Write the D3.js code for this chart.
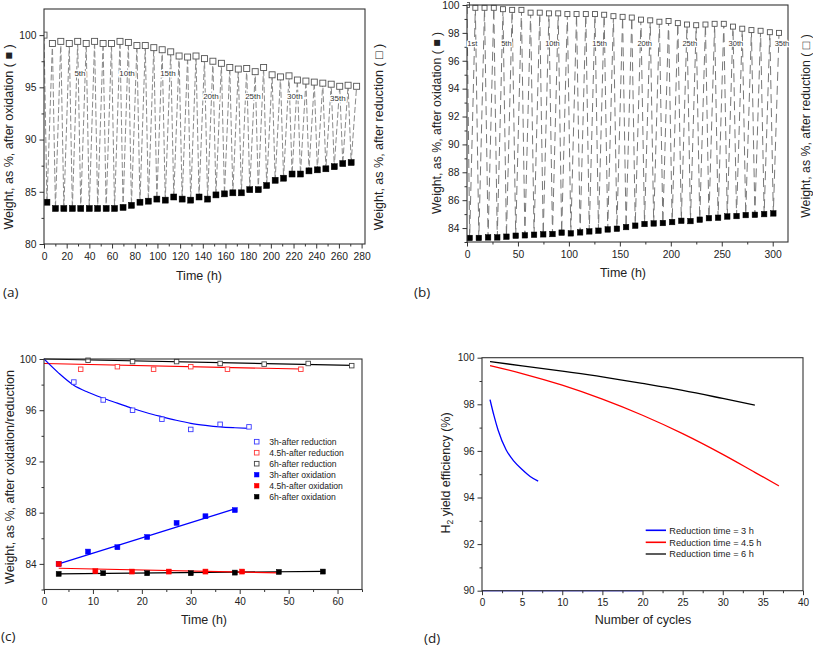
<!DOCTYPE html>
<html><head><meta charset="utf-8">
<script src="https://cdn.jsdelivr.net/npm/d3@7"></script>
<style>
body{margin:0;background:#fff;}
svg{display:block;font-family:"Liberation Sans",Arial,sans-serif;}
</style></head><body>
<svg id="chart" width="813" height="650"></svg>
<script>
// ---------- Panel (a) data ----------
const aRedTime = [0,7.4,14.8,22.3,29.7,37.2,44.6,52.1,59.5,67.0,74.4,81.9,89.3,96.8,104.2,111.7,119.1,126.6,134.0,141.5,148.9,156.4,163.8,171.3,178.7,186.2,193.6,201.1,208.5,216.0,223.4,230.9,238.3,245.8,253.2,260.7,268.1,275.6];
const aRedVal  = [100,99.2,99.4,99.2,99.4,99.2,99.4,99.2,99.2,99.4,99.3,99.0,99.0,98.8,98.6,98.4,98.0,97.9,98.0,97.75,97.5,97.3,96.9,96.75,96.8,96.5,96.9,96.2,96.0,96.1,95.7,95.6,95.5,95.4,95.3,95.1,95.2,95.1];
const aOxTime  = [2.6,10.1,17.5,25.0,32.4,39.9,47.3,54.8,62.2,69.7,77.1,84.6,92.0,99.5,106.9,114.4,121.8,129.3,136.7,144.2,151.6,159.1,166.5,174.0,181.4,188.9,196.3,203.8,211.2,218.7,226.1,233.6,241.0,248.5,255.9,263.4,270.8];
const aOxVal   = [84.0,83.4,83.4,83.4,83.4,83.4,83.4,83.4,83.4,83.5,83.7,84.0,84.1,84.3,84.2,84.5,84.3,84.2,84.5,84.3,84.7,84.8,84.9,84.9,85.2,85.2,85.6,86.1,86.3,86.7,86.7,87.0,87.1,87.2,87.4,87.7,87.8];
const aCycleLabels = ["5th","10th","15th","20th","25th","30th","35th"];
const aCycleLabelTime = [31.7,73.2,109.3,147.2,184.2,221.2,259.1];
const aCycleLabelVal  = [96.4,96.4,96.4,94.2,94.2,94.2,94.0];
const aXTicks = [0,20,40,60,80,100,120,140,160,180,200,220,240,260,280];
const aXMinor = [10,30,50,70,90,110,130,150,170,190,210,230,250,270];
const aYTicks = [80,85,90,95,100];
const aYMinor = [82.5,87.5,92.5,97.5];

// ---------- Panel (b) data ----------
const bRedTime = [0,8.2,17.2,26.3,35.3,44.3,53.4,62.4,71.4,80.4,89.5,98.5,107.5,116.6,125.6,134.6,143.7,152.7,161.7,170.7,179.8,188.8,197.8,206.9,215.9,224.9,234.0,243.0,252.0,261.0,270.1,279.1,288.1,297.2,306.2];
const bRedVal  = [100,99.8,99.8,99.8,99.7,99.65,99.65,99.45,99.45,99.4,99.4,99.35,99.35,99.35,99.35,99.3,99.2,99.15,99.1,98.95,98.9,98.8,98.85,98.7,98.6,98.55,98.6,98.65,98.65,98.45,98.3,98.2,98.15,98.05,98.0];
const bOxTime  = [2.6,11.6,20.7,29.7,38.7,47.8,56.8,65.8,74.8,83.9,92.9,101.9,111.0,120.0,129.0,138.1,147.1,156.1,165.1,174.2,183.2,192.2,201.3,210.3,219.3,228.4,237.4,246.4,255.4,264.5,273.5,282.5,291.6,300.6];
const bOxVal   = [83.29,83.29,83.33,83.33,83.38,83.45,83.48,83.52,83.55,83.57,83.67,83.62,83.69,83.76,83.81,83.9,83.95,84.07,84.17,84.29,84.33,84.36,84.43,84.52,84.5,84.6,84.71,84.74,84.83,84.86,84.93,84.95,85.0,85.05];
const bCycleLabels = ["1st","5th","10th","15th","20th","25th","30th","35th"];
const bCycleLabelTime = [5.2,38.7,83.9,130.1,174.4,218.6,263.9,309.1];
const bCycleLabelVal  = [97.3,97.3,97.3,97.3,97.3,97.3,97.3,97.3];
const bXTicks = [0,50,100,150,200,250,300];
const bXMinor = [25,75,125,175,225,275];
const bYTicks = [84,86,88,90,92,94,96,98,100];
const bYMinor = [83,85,87,89,91,93,95,97,99];

// ---------- Panel (c) data ----------
const c3RedTime = [6.1,12.1,18.1,24.1,30.0,36.0,41.9];
const c3RedVal  = [98.2,96.8,96.0,95.3,94.5,94.9,94.7];
const c45RedTime = [7.5,15.0,22.4,30.0,37.5,52.5];
const c45RedVal  = [99.2,99.4,99.2,99.4,99.2,99.2];
const c6RedTime = [9.0,18.1,27.1,36.0,45.0,54.0,62.9];
const c6RedVal  = [99.9,99.8,99.8,99.65,99.6,99.65,99.48];
const c3OxTime = [3.0,9.0,15.0,21.1,27.1,33.0,39.0];
const c3OxVal  = [84.0,84.96,85.3,86.1,87.2,87.72,88.2];
const c45OxTime = [3.0,10.5,18.0,25.5,33.0,40.5];
const c45OxVal  = [84.0,83.43,83.4,83.4,83.4,83.4];
const c6OxTime = [3.0,12.1,21.1,30.0,39.0,48.0,57.0];
const c6OxVal  = [83.22,83.27,83.27,83.27,83.32,83.37,83.4];
// fitted curves
const c3RedFitTime = [0,3,6,9,12,15,18,21,24,27,30,33,36,39,42];
const c3RedFitVal  = [100,98.9,97.97,97.4,96.95,96.55,96.15,95.8,95.5,95.22,94.98,94.82,94.7,94.63,94.58];
const c45RedFitTime = [0,52.5];
const c45RedFitVal  = [99.65,99.22];
const c6RedFitTime = [0,63];
const c6RedFitVal  = [100,99.5];
const c3OxFitTime = [3,39];
const c3OxFitVal  = [84.0,88.3];
const c45OxFitTime = [3,48];
const c45OxFitVal  = [83.66,83.3];
const c6OxFitTime = [3,57];
const c6OxFitVal  = [83.22,83.42];
const cLegend = ["3h-after reduction","4.5h-after reduction","6h-after reduction","3h-after oxidation","4.5h-after oxidation","6h-after oxidation"];
const cXTicks = [0,10,20,30,40,50,60];
const cXMinor = [5,15,25,35,45,55,65];
const cYTicks = [84,88,92,96,100];
const cYMinor = [82,86,90,94,98];

// ---------- Panel (d) data ----------
const d3Cycles = [1,1.5,2,3,4,5,6,7];
const d3Val    = [98.2,97.5,96.9,96.05,95.55,95.2,94.9,94.7];
const d45Cycles = [1,5,10,15,20,25,30,34,37];
const d45Val    = [99.66,99.32,98.82,98.22,97.53,96.74,95.85,95.08,94.5];
const d6Cycles = [1,5,10,15,20,25,30,34];
const d6Val    = [99.83,99.65,99.42,99.18,98.9,98.6,98.25,97.96];
const dBaseCycles = [0,20];
const dBaseVal = [90,90];
const dLegend = ["Reduction time = 3 h","Reduction time = 4.5 h","Reduction time = 6 h"];
const dXTicks = [0,5,10,15,20,25,30,35,40];
const dXMinor = [2.5,7.5,12.5,17.5,22.5,27.5,32.5,37.5];
const dYTicks = [90,92,94,96,98,100];
const dYMinor = [91,93,95,97,99];

// ---------- drawing ----------
const svg = d3.select("#chart");
const zip = (t,v) => t.map((d,i)=>({t:d,v:v[i]}));

function panel(o){
  const g = svg.append("g");
  const x = d3.scaleLinear().domain(o.xDom).range([o.x0,o.x1]);
  const y = d3.scaleLinear().domain(o.yDom).range([o.y1,o.y0]);
  const clip = "clip"+Math.random().toString(36).slice(2);
  svg.append("clipPath").attr("id",clip).append("rect")
    .attr("x",o.x0).attr("y",o.y0-4).attr("width",o.x1-o.x0).attr("height",o.y1-o.y0+8);
  const plot = g.append("g").attr("clip-path",`url(#${clip})`);
  const ax = g.append("g");
  // minor ticks
  ax.append("g").attr("transform",`translate(0,${o.y1})`)
    .call(d3.axisBottom(x).tickValues(o.xMinor).tickSize(2.5).tickFormat(""))
    .call(s=>s.select(".domain").remove());
  ax.append("g").attr("transform",`translate(${o.x0},0)`)
    .call(d3.axisLeft(y).tickValues(o.yMinor).tickSize(2.5).tickFormat(""))
    .call(s=>s.select(".domain").remove());
  ax.append("g").attr("transform",`translate(0,${o.y1})`)
    .call(d3.axisBottom(x).tickValues(o.xTicks).tickSize(4.5).tickPadding(o.xPad).tickFormat(d3.format("")))
    .call(s=>s.select(".domain").remove())
    .call(s=>s.selectAll("text").attr("font-size",o.tf).attr("fill","#222").attr("font-family","Liberation Sans, Arial, sans-serif"));
  ax.append("g").attr("transform",`translate(${o.x0},0)`)
    .call(d3.axisLeft(y).tickValues(o.yTicks).tickSize(4.5).tickPadding(o.yPad).tickFormat(d3.format("")))
    .call(s=>s.select(".domain").remove())
    .call(s=>s.selectAll("text").attr("font-size",o.tf).attr("fill","#222").attr("font-family","Liberation Sans, Arial, sans-serif"));
  ax.selectAll(".tick line").attr("stroke","#333");
  g.append("rect").attr("x",o.x0).attr("y",o.y0).attr("width",o.x1-o.x0).attr("height",o.y1-o.y0)
    .attr("fill","none").attr("stroke","#333").attr("stroke-width",1.1);
  return {g,plot,x,y};
}

function sq(sel, pts, x, y, size, open, color){
  sel.selectAll(null).data(pts).enter().append("rect")
    .attr("x",d=>x(d.t)-size/2).attr("y",d=>y(d.v)-size/2)
    .attr("width",size).attr("height",size)
    .attr("fill",open?"#fff":color).attr("stroke",color).attr("stroke-width",open?0.9:0.5);
}
function ytitle(x,yc,txt,fs){
  return svg.append("text").attr("transform",`translate(${x},${yc}) rotate(-90)`)
    .attr("text-anchor","middle").attr("font-size",fs).attr("fill","#222").text(txt);
}
function xtitle(xc,y,txt,fs){
  return svg.append("text").attr("x",xc).attr("y",y).attr("text-anchor","middle")
    .attr("font-size",fs).attr("fill","#222").text(txt);
}
function tag(x,y,txt){
  svg.append("text").attr("x",x).attr("y",y).attr("font-size",13.5)
    .attr("font-family","Open Sans, Liberation Sans, sans-serif").attr("fill","#222").text(txt);
}

// ----- Panel (a)
{
  const P = panel({x0:44,x1:365,y0:9,y1:244,xDom:[0,283],yDom:[80,102.5],
    xTicks:aXTicks,xMinor:aXMinor,yTicks:aYTicks,yMinor:aYMinor,xPad:4,yPad:3,tf:10.3});
  const red = zip(aRedTime,aRedVal), ox = zip(aOxTime,aOxVal);
  const all = red.concat(ox).sort((a,b)=>a.t-b.t);
  P.plot.append("path").datum(all).attr("fill","none").attr("stroke","#8a8a8a")
    .attr("stroke-width",1).attr("stroke-dasharray","6,2.5")
    .attr("d",d3.line().x(d=>P.x(d.t)).y(d=>P.y(d.v)));
  P.g.selectAll(null).data(aCycleLabels).enter().append("text")
    .attr("x",(d,i)=>P.x(aCycleLabelTime[i])).attr("y",(d,i)=>P.y(aCycleLabelVal[i])+3)
    .attr("text-anchor","middle").attr("font-size",8).attr("fill","#333")
    .attr("stroke","#fff").attr("stroke-width",3).attr("paint-order","stroke").text(d=>d);
  sq(P.plot, red, P.x, P.y, 6, true, "#555");
  sq(P.plot, ox, P.x, P.y, 6, false, "#000");
  ytitle(13,137,"Weight, as %, after oxidation ( \u25A0 )",12.5);
  ytitle(383,137,"Weight, as %, after reduction ( \u25A1 )",12.5);
  xtitle(199,280,"Time (h)",12.5);
  tag(3,297,"(a)");
}
// ----- Panel (b)
{
  const P = panel({x0:467,x1:788,y0:5,y1:242,xDom:[0,315],yDom:[83,100],
    xTicks:bXTicks,xMinor:bXMinor,yTicks:bYTicks,yMinor:bYMinor,xPad:4,yPad:3,tf:10.3});
  const red = zip(bRedTime,bRedVal), ox = zip(bOxTime,bOxVal);
  const all = red.concat(ox).sort((a,b)=>a.t-b.t);
  P.plot.append("path").datum(all).attr("fill","none").attr("stroke","#777")
    .attr("stroke-width",1).attr("stroke-dasharray","9,5")
    .attr("d",d3.line().x(d=>P.x(d.t)).y(d=>P.y(d.v)));
  P.g.selectAll(null).data(bCycleLabels).enter().append("text")
    .attr("x",(d,i)=>P.x(bCycleLabelTime[i])).attr("y",(d,i)=>P.y(bCycleLabelVal[i])+3)
    .attr("text-anchor","middle").attr("font-size",7.5).attr("fill","#333")
    .attr("stroke","#fff").attr("stroke-width",2.5).attr("paint-order","stroke").text(d=>d);
  sq(P.plot, red, P.x, P.y, 5, true, "#555");
  sq(P.plot, ox, P.x, P.y, 5.5, false, "#000");
  ytitle(441,123,"Weight, as %, after oxidation ( \u25A0 )",12.3);
  ytitle(810,126,"Weight, as %, after reduction ( \u25A1 )",12.3);
  xtitle(623,277,"Time (h)",12.5);
  tag(414,297,"(b)");
}
// ----- Panel (c)
{
  const P = panel({x0:44,x1:362,y0:359,y1:589.5,xDom:[0,65],yDom:[82,100],
    xTicks:cXTicks,xMinor:cXMinor,yTicks:cYTicks,yMinor:cYMinor,xPad:4,yPad:3,tf:10});
  const line = d3.line().x(d=>P.x(d.t)).y(d=>P.y(d.v));
  const fits = [
    [c6RedFitTime,c6RedFitVal,"#000"],[c45RedFitTime,c45RedFitVal,"#ff0000"],
    [c3RedFitTime,c3RedFitVal,"#0000ff"],[c3OxFitTime,c3OxFitVal,"#0000ff"],
    [c6OxFitTime,c6OxFitVal,"#000"],[c45OxFitTime,c45OxFitVal,"#ff0000"]];
  fits.forEach(f=>{
    P.plot.append("path").datum(zip(f[0],f[1])).attr("fill","none").attr("stroke",f[2])
      .attr("stroke-width",1.2).attr("d",line.curve(d3.curveMonotoneX));
  });
  sq(P.plot, zip(c3RedTime,c3RedVal), P.x, P.y, 4.5, true, "#3a3aff");
  sq(P.plot, zip(c45RedTime,c45RedVal), P.x, P.y, 4.5, true, "#ff3a3a");
  sq(P.plot, zip(c6RedTime,c6RedVal), P.x, P.y, 4.5, true, "#444");
  sq(P.plot, zip(c3OxTime,c3OxVal), P.x, P.y, 5, false, "#0000ff");
  sq(P.plot, zip(c6OxTime,c6OxVal), P.x, P.y, 5, false, "#000");
  sq(P.plot, zip(c45OxTime,c45OxVal), P.x, P.y, 5, false, "#ff0000");
  // legend
  const lc = ["#3a3aff","#ff3a3a","#444","#0000ff","#ff0000","#000"];
  cLegend.forEach((t,i)=>{
    const yy = 441.7 + i*11;
    const open = i<3;
    P.g.append("rect").attr("x",256.7-2.3).attr("y",yy-2.3).attr("width",4.6).attr("height",4.6)
      .attr("fill",open?"#fff":lc[i]).attr("stroke",lc[i]).attr("stroke-width",open?0.9:0.5);
    P.g.append("text").attr("x",269.3).attr("y",yy+3).attr("font-size",8.6).attr("fill","#222").text(t);
  });
  ytitle(14,477,"Weight, as %, after oxidation/reduction",12.5);
  xtitle(204,624,"Time (h)",12.5);
  tag(1,641,"(c)");
}
// ----- Panel (d)
{
  const P = panel({x0:482,x1:803,y0:357.7,y1:590.7,xDom:[0,40],yDom:[90,100],
    xTicks:dXTicks,xMinor:dXMinor,yTicks:dYTicks,yMinor:dYMinor,xPad:3.5,yPad:3,tf:10});
  const line = d3.line().x(d=>P.x(d.t)).y(d=>P.y(d.v)).curve(d3.curveMonotoneX);
  P.g.insert("path",":first-child").datum(zip(dBaseCycles,dBaseVal)).attr("fill","none")
    .attr("stroke","#6b6bff").attr("stroke-width",1.6).attr("d",line);
  [[d6Cycles,d6Val,"#000"],[d45Cycles,d45Val,"#ff0000"],[d3Cycles,d3Val,"#0000ff"]].forEach(s=>{
    P.plot.append("path").datum(zip(s[0],s[1])).attr("fill","none").attr("stroke",s[2])
      .attr("stroke-width",1.3).attr("d",line);
  });
  const lc = ["#0000ff","#ff0000","#333"];
  dLegend.forEach((t,i)=>{
    const yy = [530.3,542.3,554][i];
    P.g.append("line").attr("x1",645.7).attr("x2",666).attr("y1",yy).attr("y2",yy)
      .attr("stroke",lc[i]).attr("stroke-width",1.6);
    P.g.append("text").attr("x",669.3).attr("y",yy+3.3).attr("font-size",9.2).attr("fill","#222").text(t);
  });
  const t = svg.append("text").attr("transform","translate(450,473) rotate(-90)")
    .attr("text-anchor","middle").attr("font-size",12.5).attr("fill","#222");
  t.append("tspan").text("H");
  t.append("tspan").attr("font-size",8.5).attr("dy",3).text("2");
  t.append("tspan").attr("dy",-3).text(" yield efficiency (%)");
  xtitle(643,624,"Number of cycles",12.5);
  tag(424,643,"(d)");
}
</script>
</body></html>
